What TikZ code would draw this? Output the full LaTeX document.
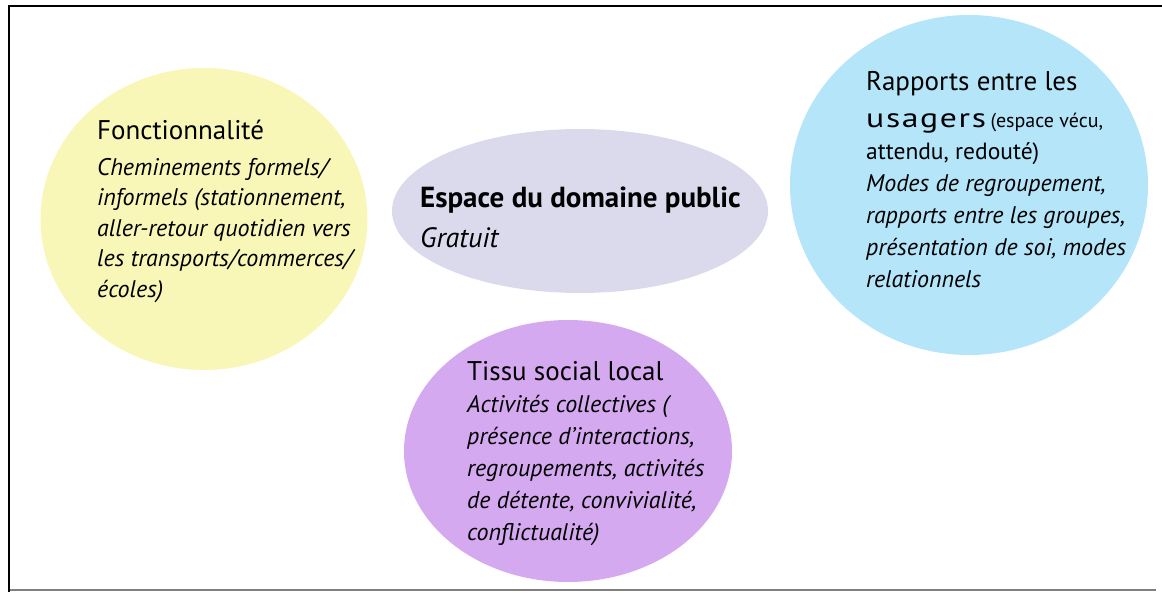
\documentclass[tikz,border=0pt]{standalone}
\usepackage{fontspec}
\setmainfont{PT Sans}
\usetikzlibrary{shapes.geometric}

\definecolor{jaune}{RGB}{248,247,184}
\definecolor{bleu}{RGB}{180,229,249}
\definecolor{gris}{RGB}{218,218,236}
\definecolor{mauve}{RGB}{212,169,240}

\tikzstyle{bulle} = [ellipse, inner sep=0pt, style={draw=none}]
\tikzstyle{titre} = [anchor=base west, inner sep=0pt, align=left, font=\fontsize{27}{37}\selectfont]
\tikzstyle{corps} = [anchor=base west, inner sep=0pt, align=left, font=\fontsize{24}{31.5}\selectfont\itshape]

\begin{document}
\begin{tikzpicture}[x=1pt, y=-1pt]
	\useasboundingbox (0,0) rectangle (1162,592);
% Frame
	\draw[line width=2.5pt] (1162,6) -- (9,6) -- (9,592);
	\draw[line width=2pt, gray] (10,590) -- (1156,590);

% Bubbles
	\node[bulle, fill=jaune, minimum width=327pt, minimum height=302pt] at (204,219) (fonct) {};
	\node[bulle, fill=gris, minimum width=376pt, minimum height=164pt] at (580,211) (espace) {};
	\node[bulle, fill=bleu, minimum width=358pt, minimum height=340pt] at (969,185) (rapports) {};
	\node[bulle, fill=mauve, minimum width=328pt, minimum height=262pt] at (568,451) (tissu) {};

% Fonctionnalite (multi-line nodes sit on their last baseline)
	\node[titre] at (97,139) (fonctitre) {Fonctionnalité};
	\node[corps, font=\fontsize{24}{30.5}\selectfont\itshape] at (97,297) (fonctcorps) {Cheminements formels/\\informels (stationnement,\\aller-retour quotidien vers\\les transports/commerces/\\écoles)};

% Espace du domaine public
	\node[titre, font=\fontsize{29}{30}\selectfont\bfseries] at (420,207) (espacetitre) {Espace du domaine public};
	\node[titre, font=\fontsize{28}{30}\selectfont\itshape] at (420,247) (espacecorps) {Gratuit};

% Rapports entre les usagers
	\node[titre] at (866,127) (rapportstitre) {Rapports entre les\\{\addfontfeature{FakeStretch=1.25,LetterSpace=6}usagers}\,{\fontsize{20}{31}\selectfont(espace vécu,}};
	\node[corps, font=\fontsize{23.5}{31}\selectfont] at (866,159) (rapportsmilieu) {attendu, redouté)};
	\node[corps, font=\fontsize{24}{31.7}\selectfont\itshape] at (866,287) (rapportscorps) {Modes de regroupement,\\rapports entre les groupes,\\présentation de soi, modes\\relationnels};

% Tissu social local
	\node[titre] at (467,380) (tissutitre) {Tissu social local};
	\node[corps, font=\fontsize{24}{32}\selectfont\itshape] at (467,540) (tissucorps) {Activités collectives (\\présence d’interactions,\\regroupements, activités\\de détente, convivialité,\\conflictualité)};

\end{tikzpicture}
\end{document}
